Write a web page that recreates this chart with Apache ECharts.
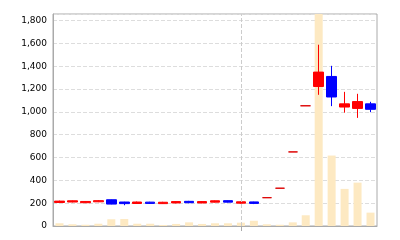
<!DOCTYPE html>
<html>
<head>
<meta charset="utf-8">
<script src="https://cdn.jsdelivr.net/npm/echarts@6/dist/echarts.min.js"></script>
<style>html,body{margin:0;padding:0;background:#fff}#c{width:400px;height:240px}</style>
</head>
<body>
<div id="c"></div>
<script>
const categories = ['1','2','3','4','5','6','7','8','9','10','11','12','13','14','15','16','17','18','19','20','21','22','23','24','25'];
const opens  = [206,210,204,212,230,210,197,209,196,202,216,202,209,222,200,211,248,331,649,1053,1222,1310,1042,1030,1070];
const closes = [218,221,215,222,192,196,210,198,208,214,204,214,221,209,212,198,248,331,649,1053,1348,1130,1070,1090,1022];
const lows   = [203,207,201,209,190,182,193,195,193,199,200,199,206,206,196,192,248,331,649,1053,1149,1050,993,947,997];
const highs  = [222,224,219,227,232,212,214,212,212,217,220,218,224,224,216,213,248,331,649,1053,1588,1403,1175,1158,1088];
const volumes = [24,15,11,20,59,61,20,20,9,18,32,18,24,24,29,46,15,11,32,94,1857,617,325,380,117];
const yTicks = [0,200,400,600,800,1000,1200,1400,1600,1800];
const markedIndex = 14;

const candleData = categories.map((c,i)=>[opens[i],closes[i],lows[i],highs[i]]);
const chart = echarts.init(document.getElementById('c'));
chart.setOption({
  animation:false,
  grid:{left:53,right:23,top:14,bottom:14,show:true,borderColor:'#aaa',borderWidth:1},
  xAxis:{
    type:'category',data:categories,boundaryGap:true,
    axisLine:{lineStyle:{color:'#aaa'}},
    axisTick:{show:true,alignWithLabel:true,interval:(i)=>i===markedIndex,lineStyle:{color:'#aaa'}},
    axisLabel:{show:false},
    splitLine:{show:false}
  },
  yAxis:[{
    type:'value',min:0,max:1857,interval:200,
    axisLine:{show:true,lineStyle:{color:'#aaa'}},
    axisTick:{show:false},
    axisLabel:{color:'#000',fontFamily:'DejaVu Sans',fontSize:9,margin:6,
      formatter:(v)=>yTicks.includes(v)?v.toLocaleString('en-US'):''},
    splitLine:{lineStyle:{color:'#ddd',type:'dashed'}}
  },{
    type:'value',min:0,max:1857,show:false,splitLine:{show:false}
  }],
  series:[{
    type:'bar',yAxisIndex:1,data:volumes,barWidth:8,
    itemStyle:{color:'#fde9c2'},z:1,
    markLine:{silent:true,symbol:'none',label:{show:false},
      lineStyle:{color:'#ccc',type:'dashed',width:1},
      data:[{xAxis:categories[markedIndex]}]}
  },{
    type:'candlestick',data:candleData,barWidth:10,z:3,
    itemStyle:{color:'#ff0000',color0:'#0000ff',borderColor:'#ff0000',borderColor0:'#0000ff',borderColorDoji:'#dd0000',borderWidth:1}
  }]
});
</script>
</body>
</html>
